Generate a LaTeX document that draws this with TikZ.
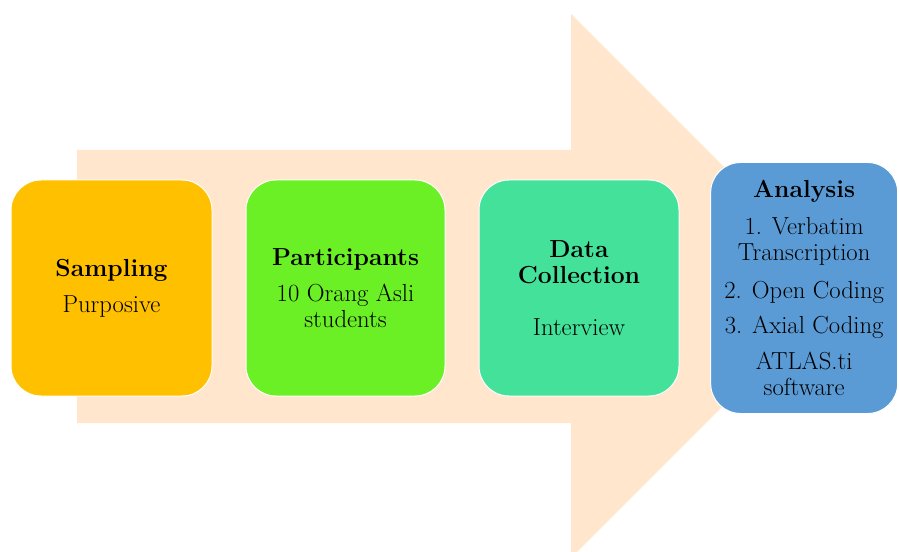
\documentclass[tikz,border=0pt]{standalone}
\usepackage{fontspec}
\usetikzlibrary{positioning}

\begin{document}
\begin{tikzpicture}[x=0.75pt,y=0.75pt,yscale=-1,xscale=1,
  stage/.style={draw=white, line width=0.75pt, rounded corners=22.5pt, inner sep=0pt,
    minimum height=162pt, align=center, font=\fontsize{18.5}{19.5}\selectfont},
  node distance=24.75pt]
\useasboundingbox (0,0) rectangle (899,552);

%Shape: Big Arrow
\draw  [draw opacity=0, fill={rgb, 255:red, 255; green, 230; blue, 204 }, fill opacity=1 ] (77,150) -- (571,150) -- (571,14) -- (843,286) -- (571,558) -- (571,423) -- (77,423) -- cycle ;

%Shape: Rounded Rectangle
\node [stage, fill={rgb, 255:red, 255; green, 192; blue, 0 }, minimum width=150.75pt] (sampling) at (111.5,288)
  {\textbf{Sampling}\\[7.5pt]Purposive};
%Shape: Rounded Rectangle
\node [stage, fill={rgb, 255:red, 106; green, 240; blue, 36 }, minimum width=149.25pt, right=of sampling] (participants)
  {\textbf{Participants}\\[8pt]10 Orang Asli\\students};
%Shape: Rounded Rectangle
\node [stage, fill={rgb, 255:red, 67; green, 225; blue, 154 }, minimum width=150pt, right=of participants] (collection)
  {\textbf{Data}\\\textbf{Collection}\\[20pt]Interview};
%Shape: Rounded Rectangle
\node [stage, fill={rgb, 255:red, 91; green, 155; blue, 213 }, minimum width=140.25pt, minimum height=188.25pt, right=23pt of collection] (analysis)
  {\textbf{Analysis}\\[8pt]1. Verbatim\\Transcription\\[9pt]2. Open Coding\\[7pt]3. Axial Coding\\[7.5pt]ATLAS.ti\\software};

\end{tikzpicture}
\end{document}
